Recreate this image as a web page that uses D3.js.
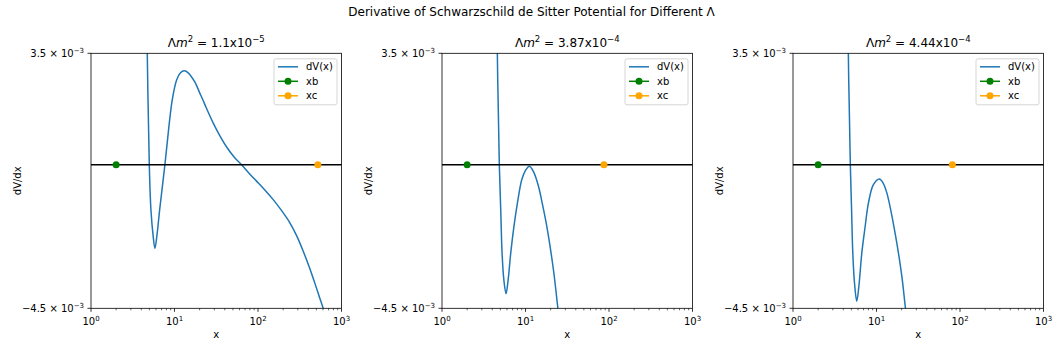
<!doctype html>
<html>
<head>
<meta charset="utf-8"/>
<title>Derivative of Schwarzschild de Sitter Potential</title>
<script src="https://d3js.org/d3.v7.min.js"></script>
<style>
body { margin: 0; background: white; }
text { font-family: "DejaVu Sans", sans-serif; fill: black; }
</style>
</head>
<body>
<script>
// values
var lambdaMant = ["1.1", "3.87", "4.44"];
var lambdaExp = ["\u22125", "\u22124", "\u22124"];
var xbVals = [2, 2, 2];
var xcVals = [521, 87, 81];
var xTicks = [1, 10, 100, 1000];
var xTickExp = ["0", "1", "2", "3"];
var yTicks = [3.5e-3, -4.5e-3];
var yTickMant = ["3.5", "\u22124.5"];

// dV/dx in units of 1e-3
var dv1X = [4.55, 4.72, 4.99, 5.22, 5.56, 5.83, 6.2, 6.64, 7.67, 8.57, 9.4, 10.6, 11.8, 13.07, 14.7, 17.5, 20.1, 22.1, 24, 29.1, 35, 42.1, 52, 63.6, 78, 96.1, 120, 152, 190, 240, 290, 347, 410, 479, 540, 602, 700];
var dv1Y = [7.0, 3.5, 0, -1.41, -2.25, -2.62, -2.15, -1.41, 0, 1.2, 2.04, 2.66, 2.89, 2.95, 2.88, 2.60, 2.25, 2.01, 1.79, 1.31, 0.91, 0.56, 0.24, 0, -0.26, -0.51, -0.78, -1.09, -1.42, -1.81, -2.22, -2.70, -3.20, -3.71, -4.12, -4.49, -5.1];

var dv2X = [4.45, 4.60, 4.86, 5.05, 5.24, 5.5, 5.85, 6.2, 6.66, 7.3, 8.0, 9.03, 10, 11.14, 12.5, 14.3, 16, 18.0, 21.6, 24.4, 27];
var dv2Y = [8, 3.5, 0, -1.4, -2.76, -3.6, -4.04, -3.6, -2.76, -1.9, -1.20, -0.46, -0.17, -0.04, -0.22, -0.67, -1.25, -1.93, -3.29, -4.49, -5.5];

var dv3X = [4.45, 4.60, 4.86, 5.03, 5.20, 5.45, 5.80, 6.15, 6.67, 7.3, 8.0, 9.18, 10.83, 12, 13.3, 16.7, 20.1, 22.2, 25];
var dv3Y = [8, 3.5, 0, -1.4, -2.76, -3.7, -4.28, -3.81, -2.76, -1.95, -1.20, -0.62, -0.44, -0.57, -0.88, -2.14, -3.49, -4.49, -5.6];

var seriesX = [dv1X, dv2X, dv3X];
var seriesY = [dv1Y, dv2Y, dv3Y];

var W = 1063, H = 354;
var lefts = [91, 442, 793];
var pw = 250.5, ptop = 53.3, ph = 255;

var svg = d3.select("body").append("svg")
  .attr("width", W).attr("height", H);

svg.append("text")
  .attr("x", 531.5).attr("y", 16)
  .attr("text-anchor", "middle")
  .attr("font-size", 12)
  .text("Derivative of Schwarzschild de Sitter Potential for Different \u039B");

for (var p = 0; p < 3; p++) {
  var left = lefts[p];
  var x = d3.scaleLog().domain([1, 1000]).range([left, left + pw]);
  var y = d3.scaleLinear().domain([-4.5e-3, 3.5e-3]).range([ptop + ph, ptop]);
  var g = svg.append("g");

  svg.append("clipPath").attr("id", "clip" + p)
    .append("rect").attr("x", left).attr("y", ptop).attr("width", pw).attr("height", ph);

  // curve
  var pts = seriesX[p].map(function(d, i) { return [d, seriesY[p][i] * 1e-3]; });
  var line = d3.line()
    .x(function(d) { return x(d[0]); })
    .y(function(d) { return y(d[1]); })
    .curve(d3.curveCatmullRom.alpha(0.5));
  g.append("path")
    .attr("clip-path", "url(#clip" + p + ")")
    .attr("d", line(pts))
    .attr("fill", "none")
    .attr("stroke", "#1f77b4")
    .attr("stroke-width", 1.5);

  // zero line
  g.append("line")
    .attr("x1", left).attr("x2", left + pw)
    .attr("y1", y(0)).attr("y2", y(0))
    .attr("stroke", "black").attr("stroke-width", 1.5);

  // horizon markers
  g.append("circle").attr("cx", x(xbVals[p])).attr("cy", y(0)).attr("r", 3.5).attr("fill", "green");
  g.append("circle").attr("cx", x(xcVals[p])).attr("cy", y(0)).attr("r", 3.5).attr("fill", "orange");

  // frame
  g.append("rect")
    .attr("x", left).attr("y", ptop).attr("width", pw).attr("height", ph)
    .attr("fill", "none").attr("stroke", "black").attr("stroke-width", 0.8);

  // x ticks
  var minor = [];
  for (var e = 0; e < 3; e++) for (var k = 2; k < 10; k++) minor.push(k * Math.pow(10, e));
  g.selectAll(".minor").data(minor).enter().append("line")
    .attr("x1", function(d) { return x(d); }).attr("x2", function(d) { return x(d); })
    .attr("y1", ptop + ph).attr("y2", ptop + ph + 2)
    .attr("stroke", "black").attr("stroke-width", 0.6);
  g.selectAll(".major").data(xTicks).enter().append("line")
    .attr("x1", function(d) { return x(d); }).attr("x2", function(d) { return x(d); })
    .attr("y1", ptop + ph).attr("y2", ptop + ph + 3.5)
    .attr("stroke", "black").attr("stroke-width", 0.8);
  var xl = g.selectAll(".xl").data(xTicks).enter().append("text")
    .attr("x", function(d) { return x(d); })
    .attr("y", ptop + ph + 17)
    .attr("text-anchor", "middle")
    .attr("font-size", 10);
  xl.append("tspan").text("10");
  xl.append("tspan").attr("font-size", 7).attr("dy", -4).text(function(d, i) { return xTickExp[i]; });

  // y ticks
  g.selectAll(".yt").data(yTicks).enter().append("line")
    .attr("x1", left - 3.5).attr("x2", left)
    .attr("y1", function(d) { return y(d); }).attr("y2", function(d) { return y(d); })
    .attr("stroke", "black").attr("stroke-width", 0.8);
  var yl = g.selectAll(".yl").data(yTicks).enter().append("text")
    .attr("x", left - 7)
    .attr("y", function(d) { return y(d) + 3.5; })
    .attr("text-anchor", "end")
    .attr("font-size", 10);
  yl.append("tspan").text(function(d, i) { return yTickMant[i] + " \u00D7 10"; });
  yl.append("tspan").attr("font-size", 7).attr("dy", -4).text("\u22123");

  // axis labels
  g.append("text")
    .attr("x", left + pw / 2).attr("y", ptop + ph + 30)
    .attr("text-anchor", "middle").attr("font-size", 10).text("x");
  g.append("text")
    .attr("transform", "translate(" + (left - 70) + "," + (ptop + ph / 2) + ") rotate(-90)")
    .attr("text-anchor", "middle").attr("font-size", 10).text("dV/dx");

  // subplot title
  var t = g.append("text")
    .attr("x", left + pw / 2).attr("y", ptop - 6)
    .attr("text-anchor", "middle").attr("font-size", 12);
  t.append("tspan").text("\u039B");
  t.append("tspan").attr("font-style", "italic").text("m");
  t.append("tspan").attr("font-size", 8.5).attr("dy", -5).text("2");
  t.append("tspan").attr("dy", 5).text(" = " + lambdaMant[p] + "x10");
  t.append("tspan").attr("font-size", 8.5).attr("dy", -5).text(lambdaExp[p]);

  // legend
  var lx = left + pw - 4.5 - 63, ly = ptop + 5.5;
  var lg = g.append("g");
  lg.append("rect").attr("x", lx).attr("y", ly).attr("width", 63).attr("height", 46)
    .attr("rx", 2).attr("fill", "white").attr("fill-opacity", 0.8)
    .attr("stroke", "#cccccc").attr("stroke-width", 0.8);
  var items = [["dV(x)", "#1f77b4", false], ["xb", "green", true], ["xc", "orange", true]];
  items.forEach(function(it, i) {
    var cy = ly + 8 + i * 14.5;
    lg.append("line").attr("x1", lx + 4).attr("x2", lx + 24).attr("y1", cy).attr("y2", cy)
      .attr("stroke", it[1]).attr("stroke-width", 1.5);
    if (it[2]) lg.append("circle").attr("cx", lx + 14).attr("cy", cy).attr("r", 3.5).attr("fill", it[1]);
    lg.append("text").attr("x", lx + 32).attr("y", cy + 3.5).attr("font-size", 10).text(it[0]);
  });
}
</script>
</body>
</html>
